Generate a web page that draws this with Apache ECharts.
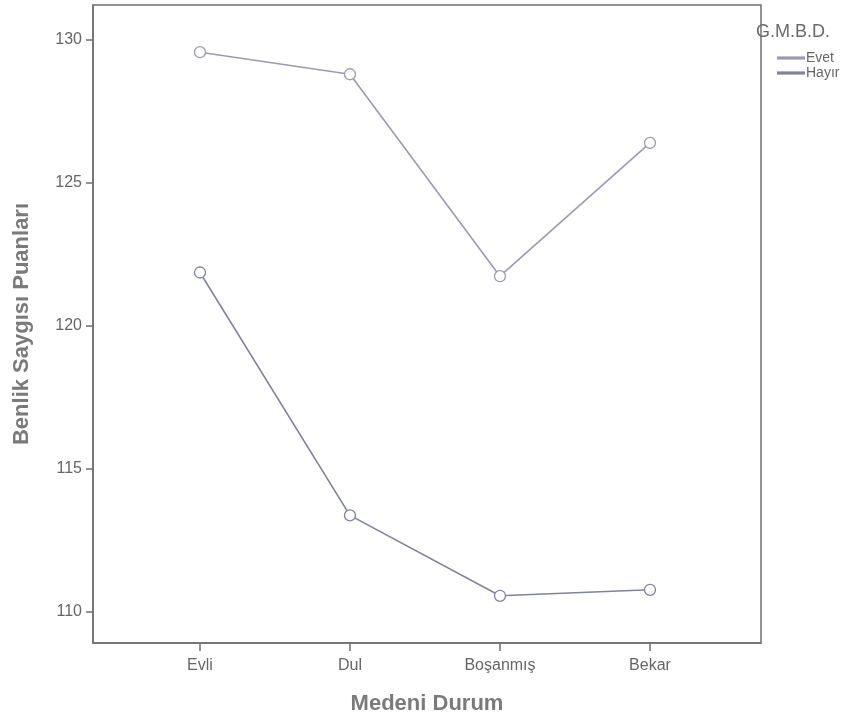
<!DOCTYPE html>
<html>
<head>
<meta charset="utf-8">
<script src="https://cdn.jsdelivr.net/npm/echarts@6/dist/echarts.min.js"></script>
<style>html,body{margin:0;padding:0;background:#fff}#c{width:862px;height:720px}</style>
</head>
<body>
<div id="c"></div>
<script>
var categories = ['Evli', 'Dul', 'Boşanmış', 'Bekar'];
var evet = [129.55, 128.78, 121.72, 126.38];
var hayir = [121.85, 113.36, 110.55, 110.76];
var yTicks = [110, 115, 120, 125, 130];
var seriesNames = ['Evet', 'Hayır'];

function toPoints(arr) { return arr.map(function (v, i) { return [i, v]; }); }
var catIdx = categories.map(function (c, i) { return i; });
var font = 'Liberation Sans, Arial, sans-serif';

var chart = echarts.init(document.getElementById('c'));
chart.setOption({
  backgroundColor: '#ffffff',
  animation: false,
  grid: { left: 93, top: 5, right: 101, bottom: 72, show: true, borderColor: '#6f6f6f', borderWidth: 1.5, backgroundColor: 'transparent' },
  xAxis: {
    type: 'value', min: -0.713, max: 3.74,
    name: 'Medeni Durum', nameLocation: 'middle', nameGap: 50,
    nameTextStyle: { fontFamily: font, fontSize: 22, fontWeight: 'bold', color: '#7a7a7a' },
    axisLine: { show: true, onZero: false, lineStyle: { color: '#6f6f6f', width: 1.5 } },
    axisTick: { show: true, customValues: catIdx, length: 8, lineStyle: { color: '#6f6f6f', width: 1.5 } },
    axisLabel: { customValues: catIdx, margin: 15, fontFamily: font, fontSize: 16, color: '#666',
      formatter: function (v) { return categories[Math.round(v)]; } },
    splitLine: { show: false }
  },
  yAxis: {
    type: 'value', min: 108.9, max: 131.2,
    name: 'Benlik Saygısı Puanları', nameLocation: 'middle', nameGap: 60,
    nameTextStyle: { fontFamily: font, fontSize: 22, fontWeight: 'bold', color: '#7a7a7a' },
    axisLine: { show: true, onZero: false, lineStyle: { color: '#6f6f6f', width: 1.5 } },
    axisTick: { show: true, customValues: yTicks, length: 7, lineStyle: { color: '#6f6f6f', width: 1.5 } },
    axisLabel: { customValues: yTicks, margin: 11, fontFamily: font, fontSize: 16, color: '#666' },
    splitLine: { show: false }
  },
  legend: {
    orient: 'vertical', left: 772, top: 46, itemGap: 1, itemWidth: 26, itemHeight: 1.2,
    icon: 'rect',
    textStyle: { fontFamily: font, fontSize: 14, color: '#666', padding: [0, 0, 0, -3] },
    data: seriesNames
  },
  graphic: [{
    type: 'text', left: 756, top: 23,
    style: { text: 'G.M.B.D.', fontFamily: font, fontSize: 18, fill: '#6a6a6a' }
  }],
  series: [
    { name: seriesNames[0], type: 'line', data: toPoints(evet), symbol: 'circle', symbolSize: 11,
      color: '#9a9ab2',
      lineStyle: { color: '#9a9ab2', width: 1.6 },
      itemStyle: { color: '#ffffff', borderColor: '#9a9ab2', borderWidth: 1.3 } },
    { name: seriesNames[1], type: 'line', data: toPoints(hayir), symbol: 'circle', symbolSize: 11,
      color: '#80839c',
      lineStyle: { color: '#80839c', width: 1.6 },
      itemStyle: { color: '#ffffff', borderColor: '#80839c', borderWidth: 1.3 } }
  ]
});
</script>
</body>
</html>
